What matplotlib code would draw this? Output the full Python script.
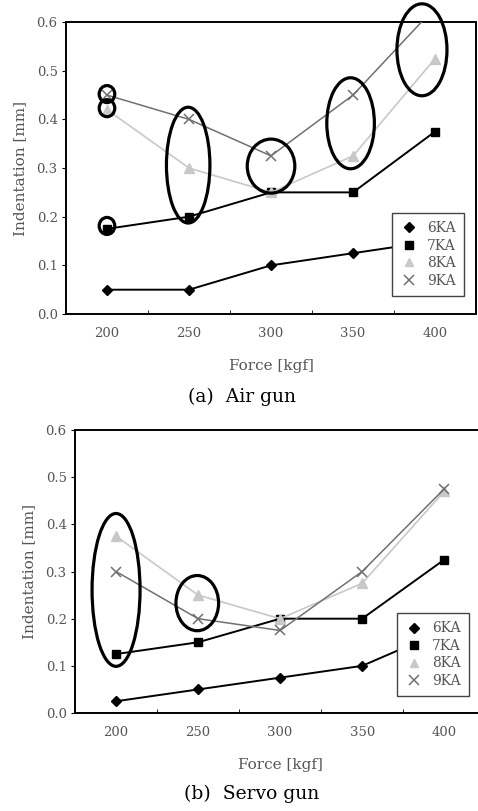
import matplotlib
matplotlib.use("Agg")
import matplotlib.pyplot as plt
from matplotlib.lines import Line2D
from matplotlib.patches import Ellipse

forces = ["200", "250", "300", "350", "400"]
currents = ["6KA", "7KA", "8KA", "9KA"]

# indentation [mm] per weld current, air gun
air_6ka = [0.05, 0.05, 0.10, 0.125, 0.15]
air_7ka = [0.175, 0.20, 0.25, 0.25, 0.375]
air_8ka = [0.42, 0.30, 0.25, 0.325, 0.525]
air_9ka = [0.45, 0.40, 0.325, 0.45, 0.63]

# indentation [mm] per weld current, servo gun
servo_6ka = [0.025, 0.05, 0.075, 0.10, 0.175]
servo_7ka = [0.125, 0.15, 0.20, 0.20, 0.325]
servo_8ka = [0.375, 0.25, 0.20, 0.275, 0.47]
servo_9ka = [0.30, 0.20, 0.175, 0.30, 0.475]

# highlight rings: (category centre, indentation centre, width, height)
air_rings = [(0.0, 0.452, 0.19, 0.035), (0.0, 0.423, 0.19, 0.035),
             (0.0, 0.181, 0.19, 0.035), (0.99, 0.306, 0.53, 0.238),
             (2.0, 0.304, 0.58, 0.111), (2.97, 0.392, 0.58, 0.187),
             (3.84, 0.543, 0.61, 0.189)]
servo_rings = [(0.0, 0.261, 0.585, 0.324), (0.99, 0.233, 0.52, 0.117)]

styles = {
    "6KA": dict(color="black", marker="D", ms=5.5, lw=1.4),
    "7KA": dict(color="black", marker="s", ms=6, lw=1.4),
    "8KA": dict(color="#c8c8c8", marker="^", ms=6.5, lw=1.2),
    "9KA": dict(color="#707070", marker="x", ms=7, lw=1.1, mew=1.1),
}

SERIF = ["DejaVu Serif"]
TXT = "#555555"


def draw_panel(ax, series, rings, legend_anchor, caption):
    x = list(range(len(forces)))
    for name, ys in zip(currents, series):
        st = styles[name]
        ax.plot(x, ys, color=st["color"], lw=st["lw"], marker=st["marker"],
                ms=st["ms"], mew=st.get("mew", 1), zorder=3)
    for cx, cy, w, h in rings:
        ax.add_patch(Ellipse((cx, cy), w, h, fill=False, ec="black",
                             lw=2.3, clip_on=False, zorder=5))

    ax.set_xlim(-0.5, 4.5)
    ax.set_ylim(0, 0.6)
    ax.set_xticks(x)
    ax.set_xticklabels(forces)
    ax.set_xticks([0.5, 1.5, 2.5, 3.5], minor=True)
    ax.tick_params(axis="x", which="major", length=0, pad=9)
    ax.tick_params(axis="x", which="minor", direction="in", length=3)
    ax.set_yticks([0, 0.1, 0.2, 0.3, 0.4, 0.5, 0.6])
    ax.set_yticklabels([f"{v:.1f}" for v in ax.get_yticks()])
    ax.tick_params(axis="y", length=3, pad=3)
    for lab in ax.get_xticklabels() + ax.get_yticklabels():
        lab.set_family(SERIF)
        lab.set_fontsize(9.5)
        lab.set_color(TXT)
    for sp in ax.spines.values():
        sp.set_linewidth(1.4)

    ax.set_xlabel("Force [kgf]", family=SERIF, fontsize=11, color=TXT, labelpad=14)
    ax.set_ylabel("Indentation [mm]", family=SERIF, fontsize=11, color=TXT, labelpad=7)

    handles = [Line2D([], [], ls="None", color=styles[n]["color"],
                      marker=styles[n]["marker"], ms=styles[n]["ms"] - 0.5,
                      mew=styles[n].get("mew", 1)) for n in currents]
    leg = ax.legend(handles, currents, loc="lower right", bbox_to_anchor=legend_anchor,
                    frameon=True, fancybox=False, framealpha=1, edgecolor="#444444",
                    prop={"family": SERIF, "size": 10}, handlelength=1.2,
                    handletextpad=0.7, labelspacing=0.25, borderpad=0.6)
    leg.get_frame().set_linewidth(1.0)
    leg.set_zorder(6)
    for t in leg.get_texts():
        t.set_color(TXT)

    ax.text(0.43, -0.285, caption, transform=ax.transAxes, ha="center", va="center",
            family=SERIF, fontsize=13.5, color="black")


fig = plt.figure(figsize=(4.78, 8.11), dpi=100)
ax_air = fig.add_axes([0.138, 0.6128, 0.858, 0.360])
ax_servo = fig.add_axes([0.157, 0.1208, 0.858, 0.349])

draw_panel(ax_air, [air_6ka, air_7ka, air_8ka, air_9ka], air_rings,
           (0.988, 0.038), "(a)  Air gun")
draw_panel(ax_servo, [servo_6ka, servo_7ka, servo_8ka, servo_9ka], servo_rings,
           (0.978, 0.035), "(b)  Servo gun")

fig.savefig("out.png", dpi=100)
